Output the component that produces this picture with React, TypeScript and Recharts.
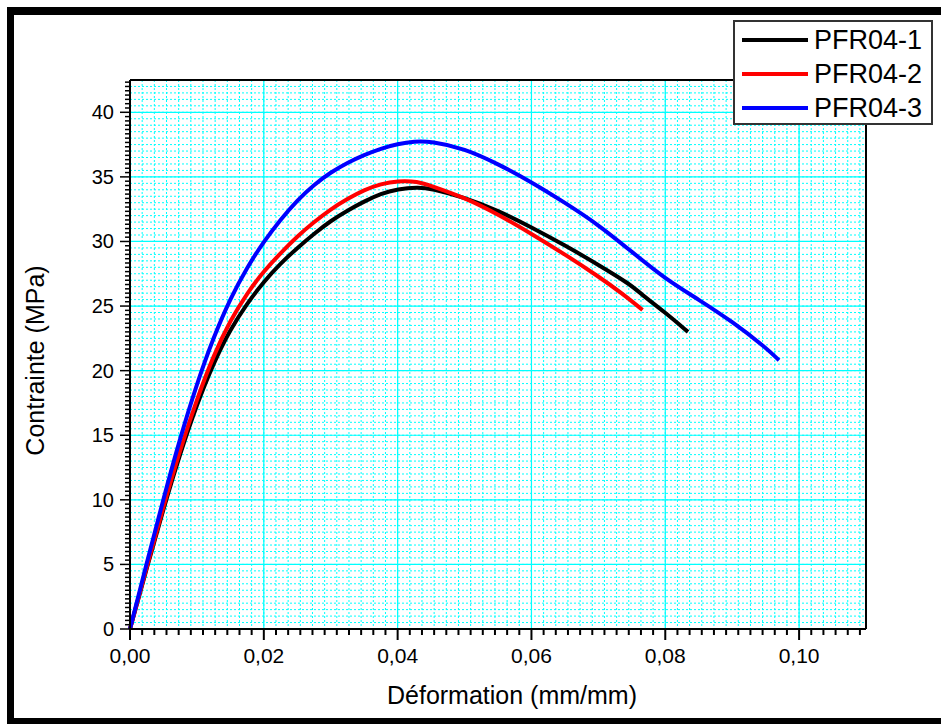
import React from 'react';
import { LineChart, Line, XAxis, YAxis, CartesianGrid, Legend, Label } from 'recharts';

// PFR04-1 (black)
const strain1 = [0, 0.0025, 0.005, 0.0075, 0.01, 0.0125, 0.015, 0.0175, 0.02, 0.0225, 0.025, 0.0275, 0.03, 0.0325, 0.035, 0.0375, 0.04, 0.043, 0.045, 0.05, 0.055, 0.06, 0.065, 0.07, 0.075, 0.0762, 0.08, 0.0834];
const stress1 = [0, 4.7, 9.3, 13.6, 17.4, 20.6, 23.2, 25.2, 26.9, 28.3, 29.5, 30.6, 31.6, 32.4, 33.1, 33.7, 34.05, 34.2, 34.1, 33.4, 32.4, 31.1, 29.7, 28.2, 26.6, 26.0, 24.5, 23.0];

// PFR04-2 (red)
const strain2 = [0, 0.0025, 0.005, 0.0075, 0.01, 0.0125, 0.015, 0.0175, 0.02, 0.0225, 0.025, 0.0275, 0.03, 0.0325, 0.035, 0.0375, 0.04, 0.043, 0.045, 0.05, 0.055, 0.06, 0.065, 0.07, 0.0735, 0.0766];
const stress2 = [0, 4.8, 9.5, 13.9, 17.8, 21.2, 23.9, 26.0, 27.7, 29.1, 30.4, 31.5, 32.5, 33.3, 34.0, 34.45, 34.7, 34.65, 34.3, 33.4, 32.1, 30.6, 29.0, 27.3, 26.0, 24.7];

// PFR04-3 (blue)
const strain3 = [0, 0.0025, 0.005, 0.0075, 0.01, 0.0125, 0.015, 0.0175, 0.02, 0.0225, 0.025, 0.0275, 0.03, 0.0325, 0.035, 0.0375, 0.04, 0.0425, 0.045, 0.05, 0.055, 0.06, 0.065, 0.07, 0.075, 0.08, 0.085, 0.09, 0.095, 0.097];
const stress3 = [0, 5.1, 10.1, 14.8, 19.0, 22.6, 25.6, 28.0, 30.0, 31.7, 33.2, 34.4, 35.35, 36.1, 36.7, 37.2, 37.55, 37.75, 37.75, 37.2, 36.0, 34.6, 33.0, 31.3, 29.2, 27.1, 25.5, 23.8, 21.8, 20.8];

const xMajor = [0, 0.02, 0.04, 0.06, 0.08, 0.1];
const yMajor = [0, 5, 10, 15, 20, 25, 30, 35, 40];
const xMinor = Array.from({ length: 61 }, (_, i) => +((i * 0.02) / 11).toFixed(6));
const yMinor = Array.from({ length: 128 }, (_, i) => +(i / 3).toFixed(4));
const yGrid = Array.from({ length: 86 }, (_, i) => i * 0.5);

const FONT = '"Liberation Sans", Arial, sans-serif';

const toRows = (xs: number[], ys: number[]) => xs.map((x, i) => ({ strain: x, stress: ys[i] }));

const isMajor = (v: number, step: number) => Math.abs(v / step - Math.round(v / step)) < 1e-4;

const BottomTick = ({ x, y, payload }: any) => {
    const major = isMajor(payload.value, 0.02);
    return (
        <g>
            <line x1={x} x2={x} y1={y} y2={y + (major ? 11 : 6)} stroke="#000" strokeWidth={2} />
            {major && (
                <text x={x} y={y + 34} textAnchor="middle" fontSize={21} fontFamily={FONT} fill="#000">
                    {payload.value.toFixed(2).replace('.', ',')}
                </text>
            )}
        </g>
    );
};

const TopTick = ({ x, y, payload }: any) => {
    const major = isMajor(payload.value, 0.02);
    return <line x1={x} x2={x} y1={y} y2={y + (major ? 10 : 5)} stroke="#000" strokeWidth={2} />;
};

const LeftTick = ({ x, y, payload }: any) => {
    const major = isMajor(payload.value, 5);
    return (
        <g>
            <line x1={x} x2={x - (major ? 10 : 5)} y1={y} y2={y} stroke="#000" strokeWidth={1.5} />
            {major && (
                <text x={x - 16} y={y + 7} textAnchor="end" fontSize={20} fontFamily={FONT} fill="#000">
                    {Math.round(payload.value)}
                </text>
            )}
        </g>
    );
};

const RightTick = ({ x, y, payload }: any) => {
    const major = isMajor(payload.value, 5);
    return <line x1={x} x2={x - (major ? 10 : 5)} y1={y} y2={y} stroke="#000" strokeWidth={1.5} />;
};

const XTitle = ({ viewBox }: any) => (
    <text x={viewBox.x + viewBox.width / 2 + 14} y={viewBox.y + 75} textAnchor="middle" fontSize={25} fontFamily={FONT} fill="#000">
        Déformation (mm/mm)
    </text>
);

const YTitle = ({ viewBox }: any) => {
    const cx = viewBox.x + 29;
    const cy = viewBox.y + viewBox.height / 2 + 6;
    return (
        <text x={cx} y={cy} transform={`rotate(-90 ${cx} ${cy})`} textAnchor="middle" fontSize={25} fontFamily={FONT} fill="#000">
            Contrainte (MPa)
        </text>
    );
};

const LegendBox = ({ payload }: any) => (
    <div
        style={{
            width: 200,
            height: 105,
            boxSizing: 'border-box',
            border: '2px solid #333',
            background: '#fff',
            paddingTop: 1,
            fontFamily: FONT,
        }}
    >
        {(payload || []).map((entry: any, index: number) => (
            <div key={index} style={{ display: 'flex', alignItems: 'center', height: 34 }}>
                <div style={{ width: 66, height: 4, background: entry.color, marginLeft: 7, marginRight: 6 }} />
                <span style={{ fontSize: 27, color: '#000', lineHeight: '34px' }}>{entry.value}</span>
            </div>
        ))}
    </div>
);

export default function App() {
    return (
        <div style={{ position: 'absolute', left: 0, top: 0, width: 941, height: 724, overflow: 'hidden', background: '#fff' }}>
            <div
                style={{
                    position: 'absolute',
                    left: 7,
                    top: 7,
                    width: 960,
                    height: 717,
                    boxSizing: 'border-box',
                    borderLeft: '7px solid #000',
                    borderTop: '8px solid #000',
                    borderBottom: '6px solid #000',
                }}
            />
            <div style={{ position: 'absolute', left: 0, top: 0 }}>
                <LineChart width={941} height={724} margin={{ top: 70, right: 65, bottom: 15, left: 15 }}>
                    <CartesianGrid
                        stroke="#00ffff"
                        strokeDasharray="2 2"
                        horizontalValues={yGrid}
                        verticalValues={xMinor}
                    />
                    <CartesianGrid stroke="#00ffff" strokeWidth={1.2} horizontalValues={yMajor} verticalValues={xMajor} />
                    <XAxis
                        xAxisId={0}
                        type="number"
                        dataKey="strain"
                        domain={[0, 0.11]}
                        ticks={xMinor}
                        interval={0}
                        height={80}
                        tickSize={0}
                        tickMargin={0}
                        tickLine={false}
                        tick={<BottomTick />}
                        axisLine={{ stroke: '#000', strokeWidth: 2 }}
                    >
                        <Label content={<XTitle />} />
                    </XAxis>
                    <XAxis
                        xAxisId="top"
                        orientation="top"
                        type="number"
                        dataKey="strain"
                        domain={[0, 0.11]}
                        ticks={xMinor}
                        interval={0}
                        height={10}
                        tickSize={0}
                        tickMargin={0}
                        tickLine={false}
                        tick={<TopTick />}
                        axisLine={{ stroke: '#000', strokeWidth: 2 }}
                    />
                    <YAxis
                        yAxisId={0}
                        type="number"
                        domain={[0, 42.5]}
                        ticks={yMinor}
                        interval={0}
                        width={115}
                        tickSize={0}
                        tickMargin={0}
                        tickLine={false}
                        tick={<LeftTick />}
                        axisLine={{ stroke: '#000', strokeWidth: 2 }}
                    >
                        <Label content={<YTitle />} />
                    </YAxis>
                    <YAxis
                        yAxisId="right"
                        orientation="right"
                        type="number"
                        domain={[0, 42.5]}
                        ticks={yMinor}
                        interval={0}
                        width={10}
                        tickSize={0}
                        tickMargin={0}
                        tickLine={false}
                        tick={<RightTick />}
                        axisLine={{ stroke: '#000', strokeWidth: 2 }}
                    />
                    <Legend
                        layout="vertical"
                        align="center"
                        verticalAlign="middle"
                        wrapperStyle={{ left: 733, top: 20, width: 200 }}
                        content={<LegendBox />}
                    />
                    <Line
                        data={toRows(strain1, stress1)}
                        dataKey="stress"
                        name="PFR04-1"
                        type="basis"
                        stroke="#000000"
                        strokeWidth={4}
                        dot={false}
                        isAnimationActive={false}
                    />
                    <Line
                        data={toRows(strain2, stress2)}
                        dataKey="stress"
                        name="PFR04-2"
                        type="basis"
                        stroke="#ff0000"
                        strokeWidth={4}
                        dot={false}
                        isAnimationActive={false}
                    />
                    <Line
                        data={toRows(strain3, stress3)}
                        dataKey="stress"
                        name="PFR04-3"
                        type="basis"
                        stroke="#0000ff"
                        strokeWidth={4}
                        dot={false}
                        isAnimationActive={false}
                    />
                </LineChart>
            </div>
        </div>
    );
}
